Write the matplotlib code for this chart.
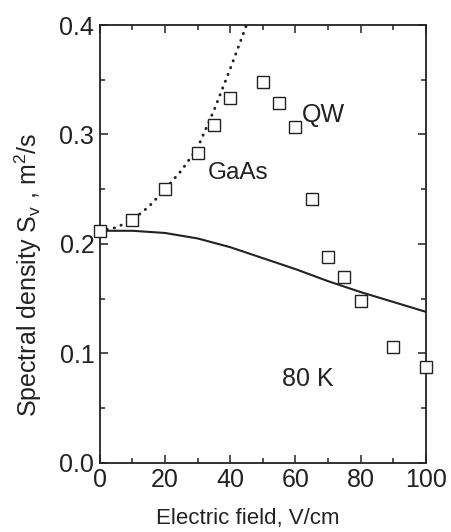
import numpy as np
import matplotlib
matplotlib.use('Agg')
import matplotlib.pyplot as plt

plt.rcParams['font.family'] = ['Liberation Sans', 'DejaVu Sans']

# measured QW points
field_qw = [0, 10, 20, 30, 35, 40, 50, 55, 60, 65, 70, 75, 80, 90, 100]
sv_qw = [0.212, 0.222, 0.250, 0.283, 0.309, 0.333, 0.348, 0.329, 0.307,
         0.241, 0.188, 0.170, 0.148, 0.106, 0.088]

# dotted curve (QW calc, low field)
field_dot = [0, 5, 10, 15, 20, 25, 30, 35, 40, 45]
sv_dot = [0.212, 0.215, 0.222, 0.234, 0.250, 0.267, 0.288, 0.322, 0.360, 0.400]

# GaAs curve
field_gaas = [0, 10, 20, 30, 40, 50, 60, 70, 80, 90, 100]
sv_gaas = [0.212, 0.212, 0.210, 0.205, 0.197, 0.187, 0.177, 0.166, 0.156, 0.147, 0.138]

ink = '#222222'

fig = plt.figure(figsize=(4.52, 5.32), dpi=100)
ax = fig.add_axes([0.221, 0.130, 0.721, 0.823])

ax.plot(field_gaas, sv_gaas, '-', color=ink, lw=1.5)
ax.plot(field_dot, sv_dot, color=ink, lw=2.1, linestyle=(0, (0.1, 2.4)),
        dash_capstyle='round')
ax.plot(field_qw, sv_qw, 's', ms=8, mfc='white', mec=ink, mew=1.0, clip_on=False, zorder=5)

ax.text(62, 0.318, 'QW', fontsize=18, color=ink, va='center')
ax.text(33, 0.265, 'GaAs', fontsize=17.5, color=ink, va='center')
ax.text(56, 0.077, '80 K', fontsize=18, color=ink, va='center')

ax.set_xlim(0, 100)
ax.set_ylim(0, 0.4)
ax.set_xticks([0, 20, 40, 60, 80, 100])
ax.set_xticks(np.arange(10, 100, 20), minor=True)
ax.set_yticks([0.0, 0.1, 0.2, 0.3, 0.4])
ax.set_yticks([0.05, 0.15, 0.25, 0.35], minor=True)
ax.set_yticklabels(['0.0', '0.1', '0.2', '0.3', '0.4'])

ax.tick_params(which='both', direction='in', top=True, right=True, color=ink,
               width=1.1, labelsize=18, labelcolor=ink)
ax.tick_params(which='major', length=6, pad=4)
ax.tick_params(which='minor', length=3.5)
for s in ax.spines.values():
    s.set_linewidth(1.3)
    s.set_color(ink)

ax.set_xlabel('Electric field, V/cm', fontsize=16, color=ink)
ax.xaxis.set_label_coords(0.454, -0.104)
ax.set_ylabel('Spectral density S$_\\mathregular{v}$ , m$^\\mathregular{2}$/s', fontsize=18,
              color=ink)
ax.yaxis.set_label_coords(-0.170, 0.43)

fig.savefig('out.png', dpi=100)
